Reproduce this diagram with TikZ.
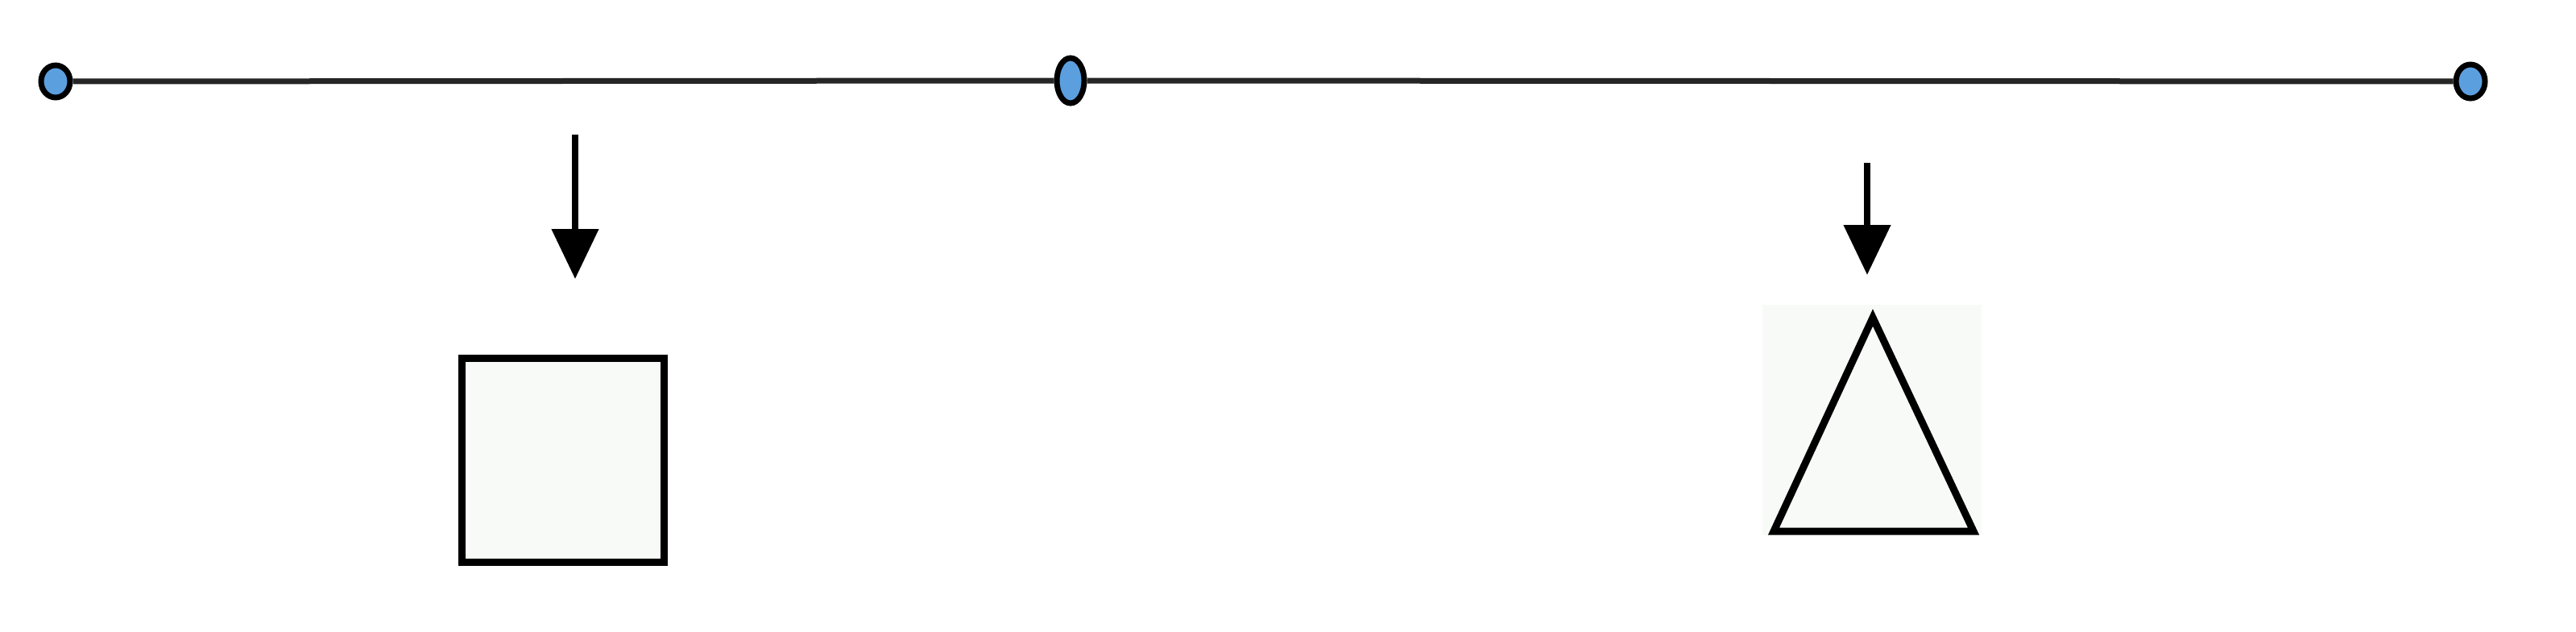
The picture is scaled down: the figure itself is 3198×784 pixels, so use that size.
\documentclass[tikz,border=0pt]{standalone}
\usetikzlibrary{arrows.meta,shapes.geometric}
\definecolor{dotblue}{HTML}{5B9FDF}
\definecolor{shapefill}{HTML}{F8FAF8}
\tikzset{
  dotnode/.style={ellipse,draw=black,line width=7pt,fill=dotblue,inner sep=0pt},
  axisline/.style={line width=7pt,draw=black!85},
  downarrow/.style={line width=8pt,-{Triangle[width=57pt,length=62pt]}},
  shapeline/.style={line width=9pt,draw=black,fill=shapefill},
}
\begin{document}
\begin{tikzpicture}[x=1pt,y=-1pt]
\useasboundingbox (0,0) rectangle (3198,784);
\fill[white] (0,0) rectangle (3198,784);
% dots
\node[dotnode,minimum width=36pt,minimum height=40pt] (dotL) at (69,101) {};
\node[dotnode,minimum width=34pt,minimum height=56pt] (dotM) at (1329,100) {};
\node[dotnode,minimum width=36pt,minimum height=42pt] (dotR) at (3067,101) {};
\draw[axisline] (dotL) -- (dotM) -- (dotR);
% left arrow and square
\coordinate (a1s) at (714,167);
\coordinate (a1e) at (714,346);
\draw[downarrow] (a1s) -- (a1e);
\node[shapeline,rectangle,minimum width=251pt,minimum height=253pt,inner sep=0pt] (square) at (699,571) {};
% right arrow and triangle
\coordinate (a2s) at (2318,202);
\coordinate (a2e) at (2318,341);
\draw[downarrow] (a2s) -- (a2e);
\node[rectangle,fill=shapefill,minimum width=272pt,minimum height=286pt,inner sep=0pt] (tribg) at (2324,521) {};
\coordinate (tA) at (2325,394);
\coordinate (tB) at (2202,659);
\coordinate (tC) at (2450,659);
\draw[shapeline,line join=miter] (tA) -- (tC) -- (tB) -- cycle;
\end{tikzpicture}
\end{document}
